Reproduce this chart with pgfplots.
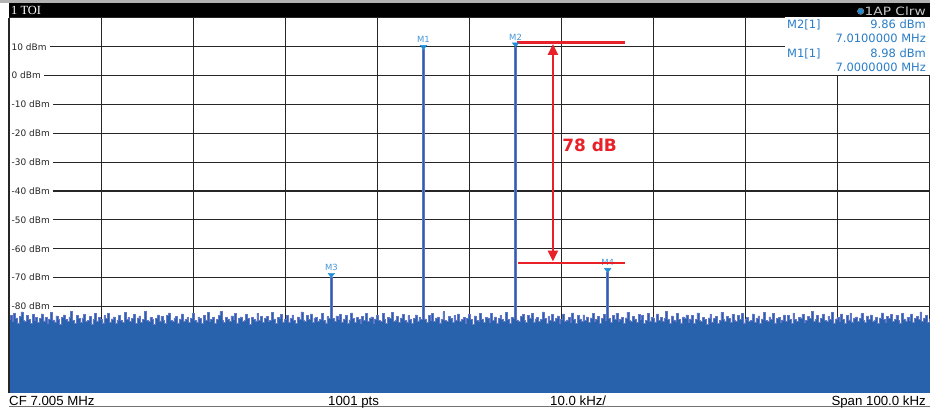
\documentclass[border=0pt]{standalone}
\usepackage{fontspec}
\setmainfont{DejaVu Sans}
\newfontfamily\barfont{Liberation Sans}
\newfontfamily\titlefont{Liberation Serif}
\usepackage{graphicx}
\usepackage{pgfplots}
\pgfplotsset{compat=1.18}
\usepackage{pgfplotstable}
\usetikzlibrary{arrows.meta}

\definecolor{noiseblue}{RGB}{40,98,172}
\definecolor{tracecol}{RGB}{98,118,200}
\definecolor{mkblue}{RGB}{30,140,214}
\definecolor{mklabel}{RGB}{70,150,215}
\definecolor{infoblue}{RGB}{40,125,200}
\definecolor{annred}{RGB}{232,32,40}
\definecolor{gridcol}{RGB}{38,38,38}

% Trace level in dBm, one value per sweep bin (0.2 kHz per bin, 6.955 MHz to 7.055 MHz)
\pgfplotstableread[row sep=\\]{
level\\
-84.6\\ -83.2\\ -85.1\\ -82.4\\ -84.0\\ -85.7\\ -83.5\\ -81.9\\ -84.8\\ -85.3\\ -83.0\\ -84.4\\ -86.0\\ -82.8\\ -84.9\\ -83.7\\ -85.5\\ -84.1\\ -82.6\\ -85.0\\
-83.9\\ -85.8\\ -84.3\\ -82.1\\ -84.7\\ -85.4\\ -83.3\\ -84.6\\ -86.2\\ -83.8\\ -82.9\\ -84.5\\ -85.2\\ -83.6\\ -81.6\\ -84.8\\ -85.9\\ -83.1\\ -84.2\\ -85.6\\
-84.0\\ -82.7\\ -85.3\\ -84.9\\ -83.4\\ -86.1\\ -84.5\\ -82.3\\ -85.0\\ -83.8\\ -84.6\\ -85.7\\ -83.2\\ -84.1\\ -82.5\\ -85.4\\ -84.3\\ -83.6\\ -86.0\\ -84.7\\
-83.0\\ -84.8\\ -85.6\\ -82.0\\ -84.4\\ -83.7\\ -85.1\\ -84.2\\ -82.8\\ -85.8\\ -84.0\\ -83.3\\ -85.5\\ -84.6\\ -81.8\\ -84.9\\ -85.2\\ -83.9\\ -84.5\\ -86.3\\
-84.1\\ -82.9\\ -85.0\\ -83.5\\ -84.7\\ -85.9\\ -83.1\\ -82.2\\ -84.8\\ -85.3\\ -84.0\\ -83.4\\ -85.7\\ -84.3\\ -82.6\\ -85.1\\ -84.5\\ -83.8\\ -85.6\\ -84.2\\
-82.4\\ -84.9\\ -85.4\\ -83.6\\ -84.1\\ -86.0\\ -83.2\\ -84.7\\ -82.0\\ -85.2\\ -84.4\\ -83.9\\ -85.8\\ -84.6\\ -83.0\\ -81.7\\ -84.8\\ -85.5\\ -83.7\\ -84.3\\
-85.1\\ -83.3\\ -84.6\\ -82.5\\ -85.7\\ -84.0\\ -83.6\\ -85.3\\ -84.9\\ -82.8\\ -84.2\\ -86.1\\ -83.8\\ -84.5\\ -85.0\\ -82.3\\ -84.7\\ -83.4\\ -85.6\\ -84.1\\
-83.5\\ -85.2\\ -84.8\\ -82.1\\ -84.3\\ -85.9\\ -83.7\\ -84.0\\ -82.7\\ -85.4\\ -84.6\\ -83.1\\ -85.5\\ -84.2\\ -82.9\\ -84.9\\ -85.8\\ -83.6\\ -84.4\\ -81.9\\
-84.7\\ -85.3\\ -83.2\\ -84.5\\ -82.6\\ -85.6\\ -84.1\\ -83.8\\ -85.0\\ -84.4\\ -82.4\\ -84.8\\ -85.7\\ -83.5\\ -84.0\\ -70.0\\ -84.2\\ -85.1\\ -83.3\\ -84.6\\
-82.8\\ -85.4\\ -84.3\\ -83.0\\ -85.8\\ -84.7\\ -82.2\\ -84.1\\ -85.5\\ -83.9\\ -84.6\\ -86.0\\ -83.4\\ -84.9\\ -82.5\\ -85.2\\ -84.0\\ -83.6\\ -85.7\\ -84.3\\
-83.1\\ -84.8\\ -85.3\\ -82.3\\ -84.5\\ -85.9\\ -83.7\\ -84.2\\ -82.0\\ -85.1\\ -84.7\\ -83.5\\ -85.6\\ -84.0\\ -82.7\\ -84.9\\ -85.4\\ -83.2\\ -84.4\\ -85.8\\
-84.1\\ -82.9\\ -85.0\\ -83.8\\ -84.6\\ 8.98\\ -84.3\\ -85.5\\ -83.0\\ -84.8\\ -82.4\\ -85.2\\ -84.0\\ -83.6\\ -85.7\\ -84.5\\ -81.8\\ -84.9\\ -85.3\\ -83.4\\
-84.2\\ -85.6\\ -83.1\\ -84.7\\ -82.6\\ -85.0\\ -84.4\\ -83.9\\ -85.8\\ -84.1\\ -82.8\\ -84.6\\ -86.2\\ -83.3\\ -84.8\\ -85.1\\ -82.5\\ -84.3\\ -85.5\\ -83.7\\
-84.0\\ -85.4\\ -82.3\\ -84.9\\ -83.6\\ -85.7\\ -84.2\\ -83.0\\ -84.6\\ -85.3\\ -82.1\\ -84.5\\ -85.9\\ -83.8\\ -84.1\\ 9.86\\ -84.7\\ -85.2\\ -83.4\\ -82.7\\
-84.8\\ -85.5\\ -83.2\\ -84.0\\ -82.4\\ -85.6\\ -84.3\\ -83.7\\ -85.1\\ -84.6\\ -81.9\\ -84.2\\ -85.8\\ -83.5\\ -84.9\\ -82.8\\ -85.3\\ -84.1\\ -83.3\\ -85.7\\
-84.4\\ -82.6\\ -85.0\\ -84.7\\ -83.9\\ -85.4\\ -82.2\\ -84.5\\ -85.9\\ -83.1\\ -84.3\\ -85.2\\ -82.9\\ -84.8\\ -83.6\\ -85.6\\ -84.0\\ -82.5\\ -85.3\\ -84.6\\
-83.4\\ -85.8\\ -84.2\\ -82.7\\ -84.9\\ -68.3\\ -84.1\\ -85.5\\ -83.0\\ -84.6\\ -82.3\\ -85.1\\ -84.4\\ -83.8\\ -85.7\\ -84.0\\ -82.0\\ -84.7\\ -85.2\\ -83.5\\
-84.3\\ -85.6\\ -82.8\\ -84.5\\ -83.2\\ -85.9\\ -84.8\\ -82.4\\ -85.0\\ -83.7\\ -84.2\\ -85.4\\ -82.6\\ -84.9\\ -83.9\\ -85.3\\ -84.1\\ -81.7\\ -84.6\\ -85.8\\
-83.3\\ -84.7\\ -85.1\\ -82.5\\ -84.4\\ -85.7\\ -83.6\\ -84.0\\ -82.9\\ -85.5\\ -84.3\\ -83.1\\ -85.9\\ -84.6\\ -82.2\\ -84.8\\ -85.2\\ -83.8\\ -84.5\\ -86.1\\
-84.0\\ -82.7\\ -85.4\\ -84.2\\ -83.5\\ -85.8\\ -84.9\\ -82.1\\ -84.6\\ -85.0\\ -83.4\\ -84.1\\ -85.6\\ -82.8\\ -84.7\\ -85.3\\ -83.0\\ -84.4\\ -82.4\\ -85.7\\
-84.5\\ -83.7\\ -85.2\\ -84.8\\ -82.6\\ -85.5\\ -84.1\\ -83.3\\ -85.9\\ -84.3\\ -82.0\\ -84.9\\ -85.1\\ -83.6\\ -84.6\\ -82.5\\ -85.7\\ -84.2\\ -83.9\\ -85.4\\
-84.7\\ -82.9\\ -85.0\\ -83.2\\ -84.4\\ -85.8\\ -82.3\\ -84.6\\ -85.3\\ -83.8\\ -84.0\\ -82.7\\ -85.6\\ -84.9\\ -83.5\\ -84.2\\ -81.8\\ -85.1\\ -84.5\\ -83.0\\
-85.5\\ -84.1\\ -82.8\\ -84.8\\ -85.2\\ -83.4\\ -84.6\\ -82.1\\ -85.7\\ -84.3\\ -83.9\\ -85.0\\ -82.6\\ -84.5\\ -85.9\\ -83.1\\ -84.7\\ -82.4\\ -85.4\\ -84.0\\
-83.6\\ -85.3\\ -84.2\\ -82.5\\ -84.9\\ -85.6\\ -83.3\\ -84.4\\ -82.9\\ -85.1\\ -84.7\\ -83.8\\ -85.8\\ -84.0\\ -82.2\\ -84.6\\ -85.4\\ -83.5\\ -84.1\\ -82.7\\
-85.2\\ -84.5\\ -83.0\\ -84.8\\ -85.7\\ -82.4\\ -84.3\\ -85.0\\ -83.7\\ -84.9\\ -82.6\\ -85.5\\ -84.2\\ -83.4\\ -84.6\\ -81.9\\ -85.3\\ -84.0\\ -83.2\\ -85.6\\
-84.4\\
}\trace

\begin{document}
\begin{tikzpicture}
\useasboundingbox (0,0) rectangle (930bp,408bp);
\fill[white] (0,0) rectangle (930bp,408bp);

\begin{axis}[
  at={(9bp,15bp)}, anchor=south west,
  width=921bp, height=375.2bp, scale only axis,
  xmin=0, xmax=500, ymin=-110, ymax=20,
  xtick={0,50,...,500}, xticklabels={},
  ytick={-80,-70,...,10},
  yticklabels={{-80 dBm},{-70 dBm},{-60 dBm},{-50 dBm},{-40 dBm},{-30 dBm},{-20 dBm},{-10 dBm},{0 dBm},{10 dBm}},
  grid=major,
  major grid style={draw=gridcol, line width=1.1bp},
  major tick length=0pt,
  axis line style={draw=gridcol, line width=1bp},
  yticklabel style={anchor=west, xshift=-0.5bp, fill=white, inner xsep=3bp, inner ysep=1pt,
    font=\fontsize{9}{10}\selectfont, text=black!85},
]

% swept trace, one step per bin, filled down to the bottom of the display
\addplot[const plot mark mid, draw=none, fill=noiseblue]
  table[x expr=\coordindex, y index=0] {\trace}
  -- (axis cs:500,-110) -- (axis cs:0,-110) -- cycle;
\addplot[const plot mark mid, tracecol, line width=0.5bp]
  table[x expr=\coordindex, y index=0] {\trace};

% markers M1..M4
\addplot[only marks, mark=triangle*, mark size=3.8bp, color=mkblue,
  mark options={yshift=2.85bp, yscale=0.75, rotate=180}]
  coordinates {(225,8.98) (275,9.86) (175,-70.0) (325,-68.3)};
\begin{scope}[every node/.style={anchor=south, inner sep=0pt, text=mklabel,
    font=\fontsize{8.5}{9}\selectfont}]
  \node[yshift=6.5bp] at (axis cs:225,8.98) {M1};
  \node[yshift=6.5bp] at (axis cs:275,9.86) {M2};
  \node[yshift=6.5bp] at (axis cs:175,-70.0) {M3};
  \node[yshift=6.5bp] at (axis cs:325,-68.3) {M4};
\end{scope}

% level difference annotation
\draw[annred, line width=2.5bp] (axis cs:276,11.5) -- (axis cs:334.5,11.5);
\draw[annred, line width=2.5bp] (axis cs:276.3,-65) -- (axis cs:334.5,-65);
\draw[annred, line width=2.4bp,
  {Triangle[length=11bp,width=10bp]}-{Triangle[length=11bp,width=10bp]},
  shorten <=1.6bp, shorten >=1.6bp]
  (axis cs:295.3,11.5) -- (axis cs:295.3,-65);
\node[annred, anchor=west, inner sep=0pt, font=\bfseries\fontsize{17}{18}\selectfont]
  at (axis cs:300.3,-24.1) {78 dB};
\end{axis}

% marker readout
\fill[white] (785bp,333bp) rectangle (930bp,390.5bp);
\begin{scope}[every node/.style={inner sep=0pt, text=infoblue, font=\fontsize{11.5}{12}\selectfont}]
  \node[anchor=base west] at (787bp,379.3bp) {M2[1]};
  \node[anchor=base east] at (926bp,379.3bp) {9.86 dBm};
  \node[anchor=base east] at (926bp,365bp) {7.0100000 MHz};
  \node[anchor=base west] at (787bp,350bp) {M1[1]};
  \node[anchor=base east] at (926bp,350bp) {8.98 dBm};
  \node[anchor=base east] at (926bp,336bp) {7.0000000 MHz};
\end{scope}

% title bar
\fill[black!30] (0,405bp) rectangle (930bp,408bp);
\fill[black] (9bp,390.5bp) rectangle (930bp,405bp);
\node[anchor=base west, inner sep=0pt, text=white, font=\titlefont\fontsize{12.5}{13}\selectfont]
  at (11bp,393bp) {1 TOI};
\node[anchor=base east, inner sep=0pt, text=black!22, font=\fontsize{11.5}{12}\selectfont]
  (ap) at (926bp,392.5bp) {\scalebox{1.2}[1]{1AP Clrw}};
\fill[mkblue] ([xshift=-3.8bp]ap.west) circle (2.8bp);
\draw[black!40, line width=0.5bp] ([xshift=-3.8bp]ap.west) circle (3.2bp);

% status bar
\fill[white] (0,0) rectangle (930bp,15bp);
\draw[black!55, line width=0.8bp] (9bp,1.2bp) -- (930bp,1.2bp);
\begin{scope}[every node/.style={inner sep=0pt, text=black, font=\barfont\fontsize{13.3}{14}\selectfont}]
  \node[anchor=base west] at (9bp,3bp) {CF 7.005 MHz};
  \node[anchor=base west] at (328bp,3bp) {1001 pts};
  \node[anchor=base west] at (550bp,3bp) {10.0 kHz/};
  \node[anchor=base east] at (926bp,3bp) {Span 100.0 kHz};
\end{scope}
\draw[gridcol, line width=1bp] (9bp,15bp) -- (9bp,390.5bp);
\end{tikzpicture}
\end{document}
